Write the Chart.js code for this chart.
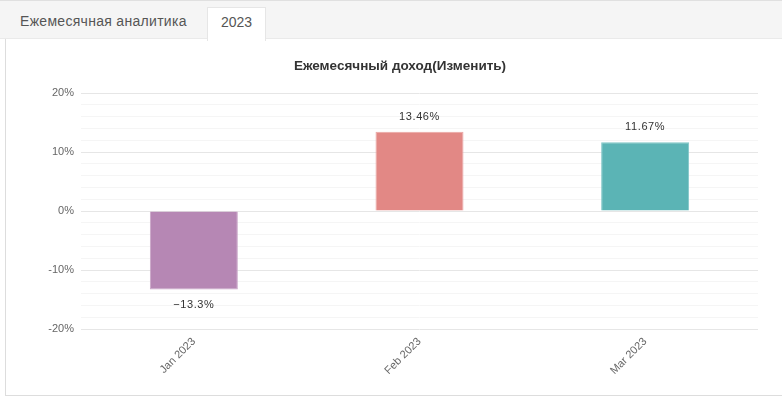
<!DOCTYPE html>
<html>
<head>
<meta charset="utf-8">
<script src="https://cdn.jsdelivr.net/npm/chart.js@4/dist/chart.umd.min.js"></script>
<style>
  body { margin: 0; background: #fff; font-family: Arial, "Liberation Sans", sans-serif; }
  .tabs { position: absolute; left: 0; top: 0; width: 782px; height: 39px; background: #f5f5f5;
          border-top: 1px solid #e0e0e0; border-bottom: 1px solid #eaeaea; box-sizing: border-box; }
  .tab { position: absolute; top: 0; font-size: 14px; color: #555; line-height: 41px; letter-spacing: 0.3px; }
  .tab.active { top: 6px; height: 34px; line-height: 28px; background: #fff; border: 1px solid #e6e6e6;
                border-bottom: none; box-sizing: border-box; padding: 0 13px; color: #555; letter-spacing: 0; }
  .panel { position: absolute; left: 5px; top: 39px; width: 777px; height: 357px;
           border-left: 1px solid #ddd; border-bottom: 1px solid #ddd; box-sizing: border-box; }
</style>
</head>
<body>
<div class="tabs">
  <span class="tab" style="left:20px">Ежемесячная аналитика</span>
  <span class="tab active" style="left:207px">2023</span>
</div>
<div class="panel"><canvas id="chart"></canvas></div>
<script>
const months = ['Jan 2023', 'Feb 2023', 'Mar 2023'];
const changes = [-13.3, 13.46, 11.67];
const barColors = ['#b687b4', '#e28885', '#5bb4b5'];

// value labels above / below each bar
const valueLabels = {
  id: 'valueLabels',
  afterDatasetsDraw(chart) {
    const ctx = chart.ctx;
    const meta = chart.getDatasetMeta(0);
    ctx.save();
    ctx.font = '11px Arial';
    ctx.fillStyle = '#333';
    ctx.textAlign = 'center';
    ctx.textBaseline = 'middle';
    ctx.letterSpacing = '0.6px';
    meta.data.forEach((bar, i) => {
      const v = changes[i];
      const txt = (v < 0 ? '\u2212' + Math.abs(v) : v) + '%';
      const y = v < 0 ? bar.y + 15 : bar.y - 15;
      ctx.fillText(txt, bar.x, y);
    });
    ctx.restore();
  }
};

new Chart(document.getElementById('chart'), {
  type: 'bar',
  data: {
    labels: months,
    datasets: [{
      data: changes,
      backgroundColor: barColors,
      borderColor: ['#c9a5c7', '#eaa5a3', '#7fc6c7'],
      borderWidth: 1,
      categoryPercentage: 1,
      barPercentage: 0.39
    }]
  },
  options: {
    responsive: true,
    maintainAspectRatio: false,
    animation: false,
    layout: { padding: { left: 36, right: 24, top: 0, bottom: 0 } },
    plugins: {
      legend: { display: false },
      tooltip: { enabled: false },
      title: {
        display: true,
        text: 'Ежемесячный доход(Изменить)',
        color: '#333',
        font: { size: 13.5, weight: 'bold', family: 'Arial' },
        padding: { top: 19, bottom: 19 }
      }
    },
    scales: {
      x: {
        grid: { display: false },
        border: { display: false },
        ticks: { color: '#666', font: { size: 11, family: 'Arial' }, minRotation: 45, maxRotation: 45, padding: -2 },
        afterFit(scale) { scale.height = 66; }
      },
      y: {
        min: -20,
        max: 20,
        border: { display: false },
        grid: {
          drawTicks: false,
          color: ctx => (ctx.tick && ctx.tick.value % 10 === 0) ? '#e6e6e6' : '#f5f5f5'
        },
        ticks: {
          stepSize: 2,
          autoSkip: false,
          padding: 7,
          color: '#666',
          font: { size: 11, family: 'Arial' },
          callback: v => v % 10 === 0 ? v + '%' : ''
        },
        afterFit(scale) { scale.width = 39; }
      }
    }
  },
  plugins: [valueLabels]
});
</script>
</body>
</html>
